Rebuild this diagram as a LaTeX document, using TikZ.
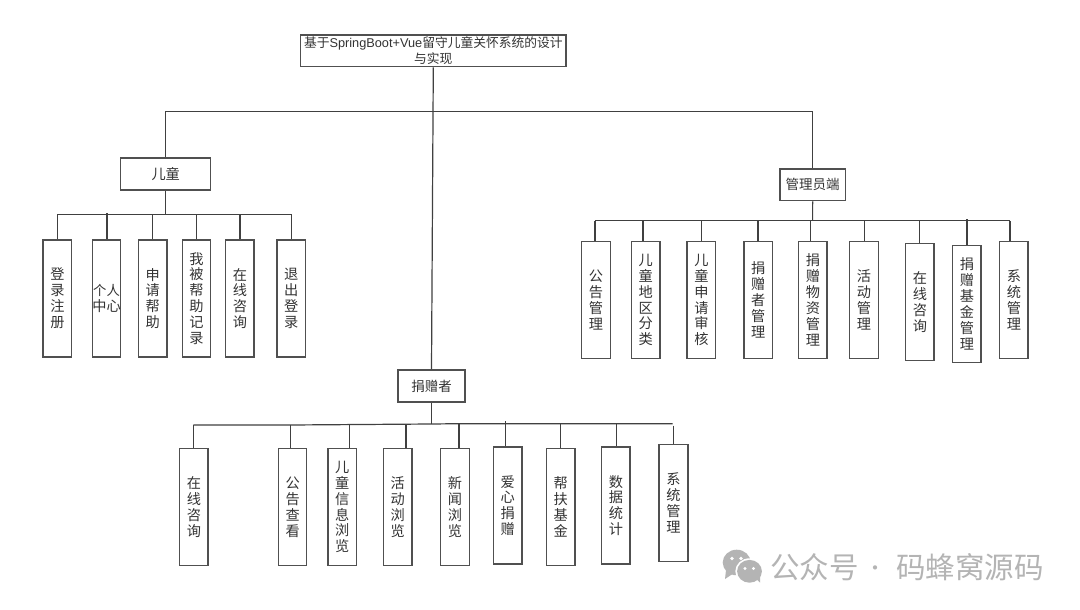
\documentclass[tikz,border=0pt]{standalone}
\usepackage{fontspec}
\setmainfont{Noto Sans CJK SC}
\newfontfamily\latfont{Liberation Sans}
\tikzset{
  x=1pt,y=-1pt,
  box/.style={draw=boxgray,line width=1.35pt,fill=white,inner sep=0pt,align=center,text=inkgray,font=\fontsize{14.2}{15.9}\selectfont},
  conn/.style={draw=linegray,line width=1.2pt},
  wm/.style={text=wmgray,inner sep=0pt,font=\fontsize{29.5}{31}\selectfont}
}
\definecolor{boxgray}{HTML}{505050}
\definecolor{linegray}{HTML}{404040}
\definecolor{inkgray}{HTML}{333333}
\definecolor{wmgray}{HTML}{B4B4B4}
\newcommand{\bx}[6]{\node[box,minimum width={(#4)-(#2)},minimum height={(#5)-(#3)}] (#1) at ({((#2)+(#4))/2},{((#3)+(#5))/2}) {#6};}
\newcommand{\drop}[3]{\coordinate (#1) at (#2); \draw[conn] (#1) -- (#1 |- #3.north);}
\begin{document}
\begin{tikzpicture}
\useasboundingbox (0,0) rectangle (1080,610);
\fill[white] (0,0) rectangle (1080,610);

% root and first level
\node[box,minimum width=265.3,minimum height=31.7,font=\fontsize{12.75}{15.8}\selectfont] (root) at (433.3,50.9) {基于{\latfont SpringBoot+Vue}留守儿童关怀系统的设计\\与实现};
\bx{kid}{120.7}{158}{210.7}{190}{儿童}
\bx{mgr}{780}{169}{845.3}{200.7}{\fontsize{13.5}{15.9}\selectfont 管理员端}
\bx{don}{398}{370}{465}{402}{\fontsize{13.5}{15.9}\selectfont 捐赠者}
\coordinate (rbus) at (433.3,111.6);
\draw[conn] (kid.north) -- (kid.north |- rbus) -- (mgr.north |- rbus) -- (mgr.north);
\draw[conn] (root.south) -- (don.north);

% children
\bx{k1}{43}{240}{71.7}{357}{登\\录\\注\\册}
\bx{k2}{92.3}{240}{120.7}{357}{\fontsize{13.3}{16.7}\selectfont 个人\\中心}
\bx{k3}{138.3}{240}{167}{357}{申\\请\\帮\\助}
\bx{k4}{182.3}{240}{210.7}{357}{我\\被\\帮\\助\\记\\录}
\bx{k5}{225.7}{240}{254}{357}{在\\线\\咨\\询}
\bx{k6}{277}{240}{305.3}{357}{退\\出\\登\\录}
\coordinate (kbus) at (165.7,214.4);
\draw[conn] (kid.south) -- (kbus);
\draw[conn] (k1.north |- kbus) -- (k6.north |- kbus);
\draw[conn] (k1.north) -- (k1.north |- kbus);
\drop{kd2}{107,213.2}{k2}
\drop{kd3}{152.5,214.4}{k3}
\drop{kd4}{196.4,214.4}{k4}
\drop{kd5}{240,214.4}{k5}
\draw[conn] (k6.north) -- (k6.north |- kbus);

% admin
\bx{m1}{581.7}{241.3}{610.3}{358.7}{公\\告\\管\\理}
\bx{m2}{631.3}{241.3}{660}{358.7}{儿\\童\\地\\区\\分\\类}
\bx{m3}{687}{241.3}{715.7}{358.7}{儿\\童\\申\\请\\审\\核}
\bx{m4}{744}{241.3}{772.3}{358.7}{捐\\赠\\者\\管\\理}
\bx{m5}{798.7}{241.3}{827}{358.7}{捐\\赠\\物\\资\\管\\理}
\bx{m6}{849.7}{241.3}{878.3}{358.7}{活\\动\\管\\理}
\bx{m7}{905.7}{243.7}{934}{360.7}{在\\线\\咨\\询}
\bx{m8}{952.7}{245.3}{981}{362.3}{捐\\赠\\基\\金\\管\\理}
\bx{m9}{999.7}{241.3}{1028}{358.7}{系\\统\\管\\理}
\coordinate (mbus) at (812.6,220.8);
\draw[conn] (mgr.south) -- (mbus);
\coordinate (md1) at (595,220.8);
\coordinate (md9) at (1010,220.8);
\draw[conn] (md1) -- (md9);
\draw[conn] (md1) -- (md1 |- m1.north);
\drop{md2}{643,220.8}{m2}
\drop{md3}{701.7,220.8}{m3}
\drop{md4}{758,220.8}{m4}
\drop{md5}{810.7,220.8}{m5}
\drop{md6}{864.5,220.8}{m6}
\drop{md7}{919.7,220.8}{m7}
\drop{md8}{967,219.3}{m8}
\draw[conn] (md9) -- (md9 |- m9.north);

% donor
\bx{d1}{179.7}{448.7}{208}{565.4}{在\\线\\咨\\询}
\bx{d2}{278.6}{448.7}{306.8}{565.4}{公\\告\\查\\看}
\bx{d3}{328}{448.7}{356.6}{565.4}{儿\\童\\信\\息\\浏\\览}
\bx{d4}{383.4}{448.7}{412}{565.4}{活\\动\\浏\\览}
\bx{d5}{440.7}{448.7}{469.3}{565.4}{新\\闻\\浏\\览}
\bx{d6}{493.4}{447}{522}{564}{爱\\心\\捐\\赠}
\bx{d7}{546.6}{448.7}{575}{565.4}{帮\\扶\\基\\金}
\bx{d8}{601.7}{447}{630}{564}{数\\据\\统\\计}
\bx{d9}{659}{444.7}{688}{561.3}{系\\统\\管\\理}
\coordinate (dbus) at (431.5,424);
\draw[conn] (don.south) -- (dbus);
\coordinate (dd1) at (193.4,425);
\coordinate (dd2) at (290.8,425);
\coordinate (dd5) at (459,423.7);
\coordinate (dend) at (672.5,423.7);
\draw[conn] (dd1) -- (dd2) -- (dbus) -- (dd5) -- (dend);
\draw[conn] (dd1) -- (dd1 |- d1.north);
\draw[conn] (dd2) -- (dd2 |- d2.north);
\drop{dd3}{349.7,424.5}{d3}
\drop{dd4}{406,424.2}{d4}
\draw[conn] (dd5) -- (dd5 |- d5.north);
\drop{dd6}{505.5,421.3}{d6}
\drop{dd7}{560.7,423.7}{d7}
\drop{dd8}{616.5,423.7}{d8}
\drop{dd9}{673.4,425.7}{d9}

% watermark
\begin{scope}
\fill[wmgray] (736.7,562.5) ellipse (14 and 12.8);
\fill[wmgray] (726,570) -- (725,579) -- (734,573) -- cycle;
\fill[white] (749.5,571.3) ellipse (14.2 and 13);
\fill[wmgray] (749.5,571.3) ellipse (12.4 and 11.4);
\fill[wmgray] (755,578) -- (760,582.5) -- (760,574) -- cycle;
\fill[white] (732,558.5) circle (1.9);
\fill[white] (741,558.5) circle (1.9);
\fill[white] (745,568.5) circle (1.6);
\fill[white] (753.5,568.5) circle (1.6);
\end{scope}
\node[wm] (wa) at (814.5,567) {公众号};
\node[wm,font=\fontsize{20}{22}\selectfont] (wb) at (875.5,570.5) {·};
\node[wm] (wc) at (970,567) {码蜂窝源码};
\end{tikzpicture}
\end{document}
